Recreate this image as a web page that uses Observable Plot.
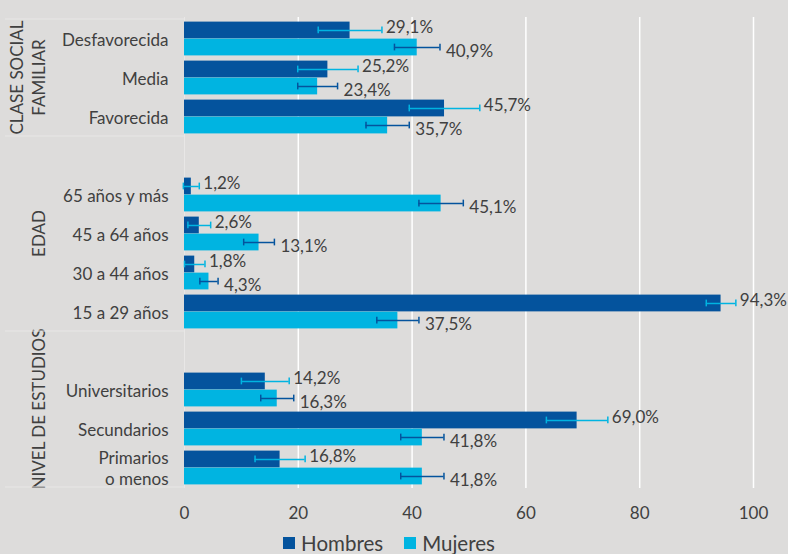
<!DOCTYPE html>
<html>
<head>
<meta charset="utf-8">
<script src="https://cdn.jsdelivr.net/npm/d3@7"></script>
<script src="https://cdn.jsdelivr.net/npm/@observablehq/plot@0.6"></script>
<style>
html, body { margin: 0; padding: 0; background: #dddcdb; }
body { width: 788px; height: 554px; overflow: hidden; font-family: Lato, "Open Sans", sans-serif; }
#legend { display: flex; justify-content: center; align-items: center; gap: 21px; height: 24px; margin-top: 7px; padding-right: 10px; font-size: 20.5px; line-height: 24px; color: #404040; }
#legend .item { display: flex; align-items: center; gap: 6px; }
#legend .sw { width: 12px; height: 12px; display: inline-block; }
</style>
</head>
<body>
<div id="chart"></div>
<div id="legend"></div>
<script>
// ---- data ----
const groupNames = ["CLASE SOCIAL\nFAMILIAR", "EDAD", "NIVEL DE ESTUDIOS"];
const groupSizes = [3, 4, 3];
const categories = ["Desfavorecida", "Media", "Favorecida",
  "65 años y más", "45 a 64 años", "30 a 44 años", "15 a 29 años",
  "Universitarios", "Secundarios", "Primarios\no menos"];
const hombres    = [29.1, 25.2, 45.7, 1.2, 2.6, 1.8, 94.3, 14.2, 69.0, 16.8];
const hombresErr = [5.6, 5.3, 6.2, 1.4, 2.0, 1.8, 2.6, 4.2, 5.4, 4.4];
const mujeres    = [40.9, 23.4, 35.7, 45.1, 13.1, 4.3, 37.5, 16.3, 41.8, 41.8];
const mujeresErr = [4.0, 3.5, 3.8, 3.9, 2.7, 1.6, 3.7, 2.9, 3.8, 3.8];
const seriesNames = ["Hombres", "Mujeres"];
const xTicks = [0, 20, 40, 60, 80, 100];

// ---- styles ----
const hColor = "#04539d";
const mColor = "#00b4e1";
const textColor = "#404040";

// ---- build ----
const yDomain = [];
const domainGroup = [];
let k = 0;
groupSizes.forEach((n, g) => {
  if (g > 0) { const blank = " ".repeat(g); yDomain.push(blank); domainGroup.push(g); }
  for (let i = 0; i < n; i++) { yDomain.push(categories[k++]); domainGroup.push(g); }
});
const table = categories.map((c, i) => ({cat: c, h: hombres[i], he: hombresErr[i], m: mujeres[i], me: mujeresErr[i]}));
const fmt = v => v.toFixed(1).replace(".", ",") + "%";

const W = 788, H = 524, mt = 17, mb = 36, ml = 184, mr = 35;
const step = (H - mt - mb) / yDomain.length;
const pad = 2.6;
const half = step / 2;
const off = step / 4 - pad / 2;          // distance from band centre to each bar's centre
const capH = 7;
const hCenter = (half + pad) / 2;        // from band start
const mCenter = step - hCenter;

const chart = Plot.plot({
  width: W, height: H,
  marginTop: mt, marginBottom: mb, marginLeft: ml, marginRight: mr,
  style: {background: "transparent", fontFamily: "Lato, 'Open Sans', sans-serif", color: textColor, overflow: "visible"},
  x: {domain: [0, 100]},
  y: {domain: yDomain, padding: 0},
  marks: [
    Plot.ruleX([0], {stroke: "#e8e7e6", strokeWidth: 1}),
    Plot.ruleX(xTicks.filter(t => t > 0), {stroke: "#ffffff", strokeWidth: 1.5}),
    Plot.barX(table, {y: "cat", x: "h", fill: hColor, insetTop: pad, insetBottom: half}),
    Plot.barX(table, {y: "cat", x: "m", fill: mColor, insetTop: half, insetBottom: pad}),
    // error bars
    Plot.ruleY(table, {y: "cat", x1: d => d.h - d.he, x2: d => d.h + d.he, dy: -off, stroke: mColor, strokeWidth: 1.5}),
    Plot.tickX(table, {y: "cat", x: d => d.h - d.he, stroke: mColor, strokeWidth: 1.5, insetTop: hCenter - capH / 2, insetBottom: step - hCenter - capH / 2}),
    Plot.tickX(table, {y: "cat", x: d => d.h + d.he, stroke: mColor, strokeWidth: 1.5, insetTop: hCenter - capH / 2, insetBottom: step - hCenter - capH / 2}),
    Plot.ruleY(table, {y: "cat", x1: d => d.m - d.me, x2: d => d.m + d.me, dy: off, stroke: hColor, strokeWidth: 1.5}),
    Plot.tickX(table, {y: "cat", x: d => d.m - d.me, stroke: hColor, strokeWidth: 1.5, insetTop: mCenter - capH / 2, insetBottom: step - mCenter - capH / 2}),
    Plot.tickX(table, {y: "cat", x: d => d.m + d.me, stroke: hColor, strokeWidth: 1.5, insetTop: mCenter - capH / 2, insetBottom: step - mCenter - capH / 2}),
    // value labels
    Plot.text(table, {y: "cat", x: d => d.h + d.he, text: d => fmt(d.h), textAnchor: "start", dx: 4, dy: -off - 3, fontSize: 17, fill: textColor}),
    Plot.text(table, {y: "cat", x: d => d.m + d.me, text: d => fmt(d.m), textAnchor: "start", dx: 6, dy: off + 4, fontSize: 17, fill: textColor}),
    Plot.axisX({ticks: xTicks, tickSize: 0, tickPadding: 18, fontSize: 17, label: null, fill: textColor}),
    Plot.axisY({tickSize: 0, tickPadding: 16, fontSize: 17, lineHeight: 1.2, label: null, fill: textColor})
  ]
});
document.getElementById("chart").appendChild(chart);

// group separators and rotated group labels, positioned with the plot's y scale
const ys = chart.scale("y");
const svg = d3.select(chart.tagName.toLowerCase() === "svg" ? chart : chart.querySelector("svg"));
const deco = svg.append("g");
const bounds = [];
groupNames.forEach((name, g) => {
  const keys = yDomain.filter((d, i) => domainGroup[i] === g);
  const top = d3.min(keys, key => ys.apply(key));
  const bottom = d3.max(keys, key => ys.apply(key)) + ys.bandwidth;
  if (g === 0) bounds.push(top);
  bounds.push(bottom);
  const lines = name.split("\n");
  const yc = (top + bottom) / 2;
  lines.forEach((line, li) => {
    const x = 38 - 22 * (lines.length - 1 - li);
    deco.append("text")
      .attr("transform", `translate(${x},${yc}) rotate(-90)`)
      .attr("text-anchor", "middle")
      .attr("dominant-baseline", "central")
      .attr("font-size", 17)
      .attr("fill", textColor)
      .text(line);
  });
});
bounds.forEach(b => {
  deco.append("line").attr("x1", 5).attr("x2", ml).attr("y1", b).attr("y2", b)
    .attr("stroke", "#e8e7e6").attr("stroke-width", 1);
});

// legend
const legend = d3.select("#legend");
seriesNames.forEach((s, i) => {
  const it = legend.append("div").attr("class", "item");
  it.append("span").attr("class", "sw").style("background", i === 0 ? hColor : mColor);
  it.append("span").text(s);
});
</script>
</body>
</html>
